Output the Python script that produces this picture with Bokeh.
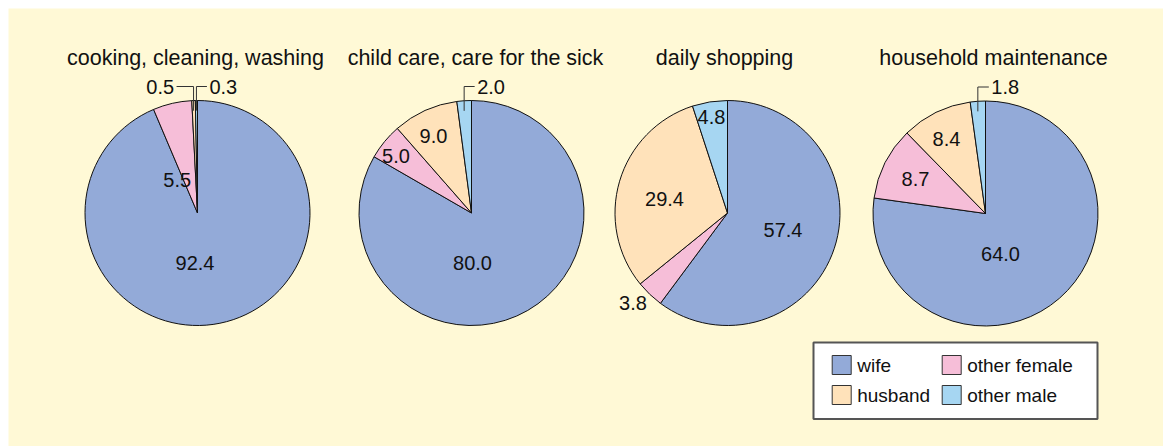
import math
from bokeh.plotting import figure
from bokeh.models import Range1d
from bokeh.embed import file_html
from bokeh.resources import INLINE
from bokeh.core.properties import value

# ---------------- data ----------------
titles = ["cooking, cleaning, washing", "child care, care for the sick",
          "daily shopping", "household maintenance"]
categories = ["wife", "other female", "husband", "other male"]
wife = [92.4, 80.0, 57.4, 64.0]
other_female = [5.5, 5.0, 3.8, 8.7]
husband = [0.5, 9.0, 29.4, 8.4]
other_male = [0.3, 2.0, 4.8, 1.8]

# ---------------- styles / layout ----------------
colors = ["#93AAD8", "#F6BED8", "#FFE2BA", "#A6D6F2"]
BG = "#FFF9D6"
FONT = value("Liberation Sans")
FW, FH = 1155, 438          # frame (yellow panel) size
OX, OY = 8, 8               # white margin


def X(px):
    return px - OX


def Y(py):
    return FH - (py - OY)


centers = [(197, 212.5), (471, 212.5), (727, 212.5), (985, 213)]
R = 112.5
title_x = [195, 475, 724, 993]
title_base = 57
# label offsets (pixels, relative to pie centre); None -> leader label
label_off = [
    [(-2.5, 49.5), (-20.3, -33.5), None, None],
    [(1, 49.5), (-75.5, -57.5), (-38, -77.5), None],
    [(55.5, 16.5), (-94.5, 89.5), (-63, -13.8), (-16, -95.8)],
    [(15, 40), (-70, -34.3), (-39, -75), None],
]
leader = {(0, 2): (-1, 17), (0, 3): (1, 10.5), (1, 3): (1, 10.5), (3, 3): (1, 11)}

p = figure(width=FW + OX, height=FH + OY, output_backend="svg",
           toolbar_location=None,
           x_range=Range1d(0, FW), y_range=Range1d(0, FH),
           x_axis_type=None, y_axis_type=None,
           min_border_left=OX, min_border_top=OY,
           min_border_right=0, min_border_bottom=0)
p.background_fill_color = BG
p.border_fill_color = "white"
p.outline_line_color = None
p.grid.visible = False

series = [wife, other_female, husband, other_male]

for i in range(4):
    cx, cy = centers[i]
    vals = [s[i] for s in series]
    total = sum(vals)
    cum = 0.0
    starts, ends, mids = [], [], []
    for v in vals:
        a0 = math.pi / 2 - 2 * math.pi * cum / total
        cum += v
        a1 = math.pi / 2 - 2 * math.pi * cum / total
        starts.append(a0)
        ends.append(a1)
        mids.append((a0 + a1) / 2)
    p.wedge(x=[X(cx)] * 4, y=[Y(cy)] * 4, radius=R, start_angle=starts,
            end_angle=ends, direction="clock", fill_color=colors,
            line_color="#111111", line_width=1)
    # title
    p.text(x=[X(title_x[i])], y=[Y(title_base)], text=[titles[i]],
           text_font=FONT, text_font_size="21.5px", text_align="center",
           text_baseline="alphabetic", text_color="#111111")
    # labels
    for j, v in enumerate(vals):
        txt = f"{v:.1f}"
        off = label_off[i][j]
        if off is not None:
            p.text(x=[X(cx + off[0])], y=[Y(cy + off[1])], text=[txt],
                   text_font=FONT, text_font_size="20px", text_align="center",
                   text_baseline="middle", text_color="#111111")
        else:
            side, hl = leader[(i, j)]
            m = mids[j]
            xm = cx + R * math.cos(m)
            yin = cy - 0.91 * R * math.sin(m)
            ly = cy - R - 14
            xe = xm + side * hl
            p.line(x=[X(xm), X(xm), X(xe)], y=[Y(yin), Y(ly), Y(ly)],
                   line_color="#333333", line_width=1)
            p.text(x=[X(xe + side * 2.5)], y=[Y(ly)], text=[txt],
                   text_font=FONT, text_font_size="20px",
                   text_align="left" if side > 0 else "right",
                   text_baseline="middle", text_color="#111111")

# legend (drawn manually)
bx0, bx1, by0, by1 = 813, 1097, 342, 418.5
p.rect(x=[X((bx0 + bx1) / 2)], y=[Y((by0 + by1) / 2)], width=bx1 - bx0,
       height=by1 - by0, fill_color="white", line_color="#555555", line_width=2)
sw_x = [841.2, 951.2, 841.2, 951.2]
sw_y = [364.5, 364.5, 394.5, 394.5]
leg_order = [0, 1, 2, 3]
p.rect(x=[X(v) for v in sw_x], y=[Y(v) for v in sw_y], width=19, height=19,
       fill_color=[colors[k] for k in leg_order], line_color="#333333",
       line_width=1)
p.text(x=[X(v + 15.5) for v in sw_x], y=[Y(v) for v in sw_y],
       text=[categories[k] for k in leg_order], text_font=FONT,
       text_font_size="19px", text_align="left", text_baseline="middle",
       text_color="#111111")

open("out.html", "w").write(file_html(p, INLINE))
